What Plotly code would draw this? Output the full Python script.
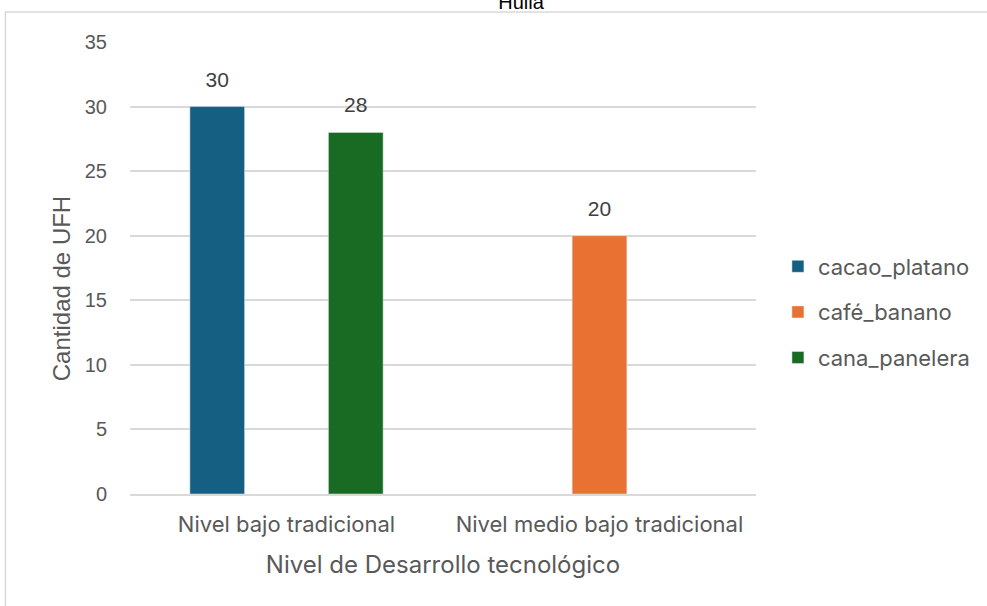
import plotly.graph_objects as go

categories = ["Nivel bajo tradicional", "Nivel medio bajo tradicional"]
series_names = ["cacao_platano", "café_banano", "cana_panelera"]
cacao_platano = [30, None]
cafe_banano = [None, 20]
cana_panelera = [28, None]
colors = ["#156082", "#E97132", "#196B24"]
tick_vals = [0, 5, 10, 15, 20, 25, 30, 35]

W, H = 987, 606
L, R, T, B = 130, 229, 42, 112
FONT = "Inter, Liberation Sans, sans-serif"
ARIAL = "Liberation Sans, Arial, sans-serif"
GREY = "#595959"
GAP = 0.336

fig = go.Figure()
for name, vals, col in zip(series_names, [cacao_platano, cafe_banano, cana_panelera], colors):
    fig.add_trace(go.Bar(
        x=categories, y=vals, name=name, marker_color=col,
        offsetgroup=name, legendgroup=name,
    ))
for name, vals, col in zip(series_names, [cacao_platano, cafe_banano, cana_panelera], colors):
    fig.add_trace(go.Scatter(
        x=categories, y=vals, mode="markers+text", offsetgroup=name, legendgroup=name,
        marker=dict(size=22, opacity=0), showlegend=False, hoverinfo="skip",
        text=[("" if v is None else str(v)) for v in vals],
        textposition="top center", textfont=dict(size=21, color="#404040", family=ARIAL),
        cliponaxis=False,
    ))

pw, ph = W - L - R, H - T - B
fig.add_shape(type="rect", xref="paper", yref="paper",
              x0=(5 - L) / pw, x1=(W + 5 - L) / pw,
              y0=-(H + 5 - T - ph) / ph, y1=1 + (T - 12) / ph,
              line=dict(color="#d9d9d9", width=1.5), fillcolor="rgba(0,0,0,0)", layer="below")

fig.add_annotation(text="Cantidad de UFH", xref="paper", yref="paper",
                   x=(61 - L) / pw, y=1 - (289 - T) / ph, textangle=-90,
                   xanchor="center", yanchor="middle", showarrow=False,
                   font=dict(size=24, color=GREY, family=ARIAL))

fig.update_layout(
    width=W, height=H,
    margin=dict(l=L, r=R, t=T, b=B),
    paper_bgcolor="white", plot_bgcolor="white",
    barmode="group", bargap=GAP, bargroupgap=0.21,
    scattermode="group", scattergap=GAP,
    font=dict(family=FONT, color=GREY),
    title=dict(text="Huila", x=521 / W, xanchor="center", y=1 - 2 / H, yanchor="middle",
               font=dict(size=20, color="#000000", family=ARIAL)),
    legend=dict(x=(780 - L) / pw, y=1 - (312 - T) / ph, xanchor="left", yanchor="middle",
                font=dict(size=22, color=GREY, family=FONT),
                traceorder="grouped", tracegroupgap=14, bgcolor="rgba(0,0,0,0)"),
    showlegend=True,
)
fig.update_xaxes(
    showline=True, linecolor="#d9d9d9", linewidth=1.5,
    tickfont=dict(size=22, color=GREY, family=FONT), ticks="", ticklen=0,
    ticklabelstandoff=10,
    title=dict(text="Nivel de Desarrollo tecnológico", font=dict(size=24, color=GREY, family=FONT), standoff=20),
)
fig.update_yaxes(
    range=[0, 35], tickvals=tick_vals, showgrid=True, gridcolor="#d9d9d9", gridwidth=1.5,
    zeroline=False, showline=False, tickfont=dict(size=20, color=GREY, family=ARIAL), ticks="",
    ticklabelstandoff=22,
)
fig.write_html("out.html")
